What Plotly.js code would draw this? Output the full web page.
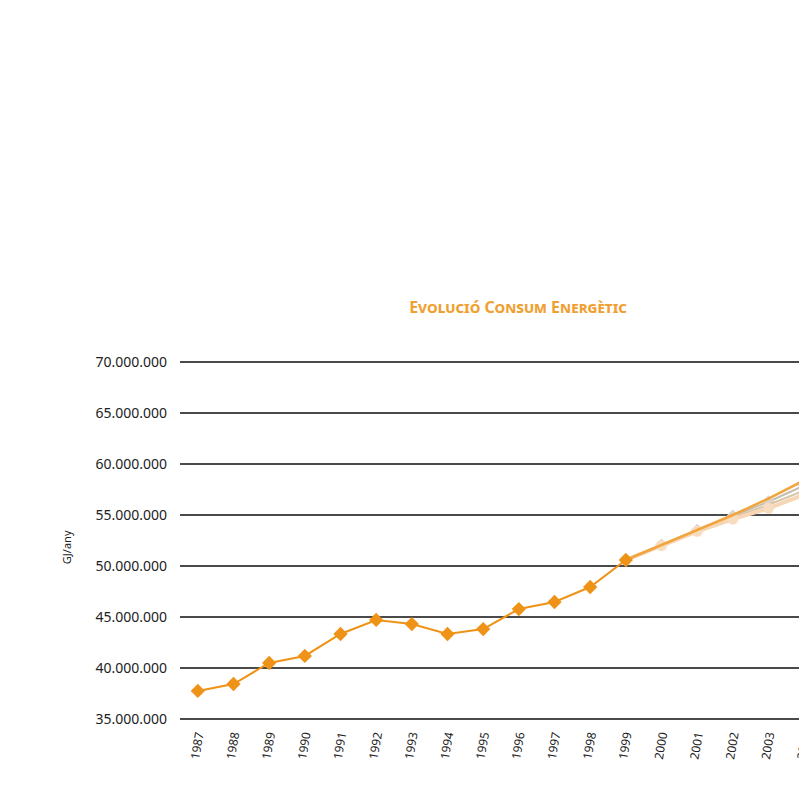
<!DOCTYPE html>
<html>
<head>
<meta charset="utf-8">
<script src="https://cdn.plot.ly/plotly-3.0.1.min.js"></script>
<style>
  html, body { margin: 0; padding: 0; background: #fff; overflow: hidden; width: 799px; height: 801px; }
  #chart { width: 1100px; height: 801px; }
</style>
</head>
<body>
<div id="chart"></div>
<script>
// Historical energy consumption (GJ/any)
const years = ['1987','1988','1989','1990','1991','1992','1993','1994','1995','1996','1997','1998','1999'];
const consum = [37750000, 38430000, 40490000, 41180000, 43330000, 44710000, 44310000,
                43330000, 43820000, 45780000, 46470000, 47940000, 50590000];

// Projection scenarios from 1999
const projYears = ['1999','2000','2001','2002','2003','2004'];
const escenariAlt   = [50590000, 52060000, 53550000, 55000000, 56600000, 58400000];
const escenariMitja = [50590000, 52060000, 53500000, 54900000, 56300000, 57900000];
const escenariMod   = [50590000, 52030000, 53450000, 54750000, 56000000, 57400000];
const escenariBaix  = [50590000, 52000000, 53400000, 54600000, 55650000, 57000000];

// Full category axis
const allYears = [];
for (let y = 1987; y <= 2010; y++) allYears.push(String(y));

const traces = [
  { x: projYears, y: escenariMitja, mode: 'lines+markers', type: 'scatter',
    line: { color: '#c4bdb1', width: 2 },
    marker: { symbol: 'diamond', size: 10, color: '#dcd4c8' }, hoverinfo: 'y' },
  { x: projYears, y: escenariMod, mode: 'lines', type: 'scatter',
    line: { color: '#d9c6a8', width: 2 }, hoverinfo: 'y' },
  { x: projYears, y: escenariBaix, mode: 'lines+markers', type: 'scatter',
    line: { color: '#f6d6b4', width: 4 },
    marker: { symbol: 'circle', size: 11, color: '#f8dcc0' }, hoverinfo: 'y' },
  { x: projYears, y: escenariAlt, mode: 'lines', type: 'scatter',
    line: { color: '#f2a53c', width: 2.5 }, hoverinfo: 'y' },
  { x: years, y: consum, mode: 'lines+markers', type: 'scatter',
    line: { color: '#ee9317', width: 2 },
    marker: { symbol: 'diamond', size: 11, color: '#ee9317' }, hoverinfo: 'y' }
];

const layout = {
  width: 1100, height: 801,
  margin: { l: 180, r: 64, t: 361, b: 81 },
  paper_bgcolor: '#ffffff', plot_bgcolor: '#ffffff',
  showlegend: false,
  separators: ',.',
  font: { family: 'Noto Sans, sans-serif', size: 12, color: '#222' },
  title: {
    text: '<b>Evolució Consum Energètic</b>',
    font: { family: 'Noto Sans, sans-serif', size: 16, color: '#f0a030', variant: 'small-caps' },
    xref: 'container', yref: 'container',
    x: 518 / 1100, xanchor: 'center',
    y: 1 - 307 / 801, yanchor: 'middle'
  },
  xaxis: {
    type: 'category', categoryorder: 'array', categoryarray: allYears,
    range: [-0.5, allYears.length - 0.5],
    tickangle: -80, showgrid: false, zeroline: false, showline: false,
    ticks: '', ticklabelstandoff: 5,
    tickfont: { size: 12, color: '#222' }
  },
  yaxis: {
    range: [34900000, 70100000], tickvals: [35000000, 40000000, 45000000, 50000000, 55000000, 60000000, 65000000, 70000000],
    tickformat: ',d',
    showgrid: true, gridcolor: '#4a4a4a', gridwidth: 2,
    zeroline: false, showline: false, ticks: '',
    ticklabelstandoff: 12,
    tickfont: { size: 14, color: '#222' }
  },
  annotations: [{
    text: 'GJ/any', xref: 'paper', yref: 'paper', x: 0, y: 0.48,
    xshift: -123, textangle: -90, showarrow: false,
    font: { size: 11, color: '#222' }
  }]
};

Plotly.newPlot('chart', traces, layout, { staticPlot: true });
</script>
</body>
</html>
